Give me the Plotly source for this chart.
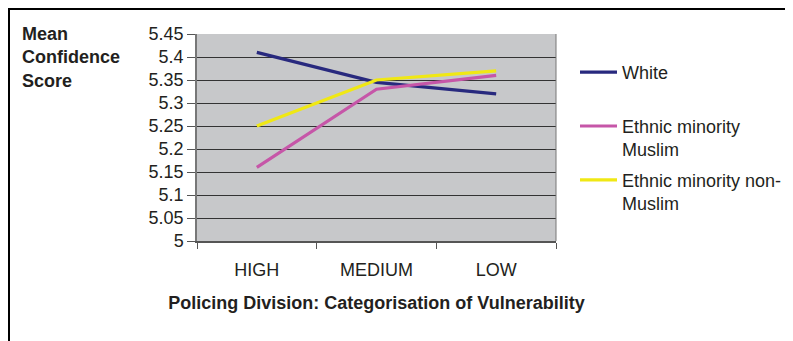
import plotly.graph_objects as go

categories = ["HIGH", "MEDIUM", "LOW"]
white = [5.41, 5.345, 5.32]
muslim = [5.16, 5.33, 5.36]
non_muslim = [5.25, 5.35, 5.37]
series_names = ["White<br>&nbsp;", "Ethnic minority<br>Muslim", "Ethnic minority non-<br>Muslim"]
y_ticks = [5, 5.05, 5.1, 5.15, 5.2, 5.25, 5.3, 5.35, 5.4, 5.45]
y_tick_labels = ["5", "5.05", "5.1", "5.15", "5.2", "5.25", "5.3", "5.35", "5.4", "5.45"]

colors = ["#28297E", "#C656A8", "#F0E814"]
font_family = "Liberation Sans, Arial, sans-serif"
text_color = "#231F20"
FS = 18

# page body has an 8px margin; work in figure coordinates
OFF = 8
W, H = 800, 341 - OFF
L, R, T, B = 197 - OFF, 556 - OFF, 34 - OFF, 241 - OFF

fig = go.Figure()
for i, (name, vals) in enumerate(zip(series_names, [white, muslim, non_muslim])):
    fig.add_trace(go.Scatter(
        x=categories, y=vals, mode="lines", name=name,
        line=dict(color=colors[i], width=3.2),
        legendgroup=f"g{i}",
    ))

def px_x(px):
    return (px - L) / (R - L)

def px_y(py):
    return (B - py) / (B - T)

fig.update_layout(
    width=W, height=H,
    margin=dict(l=L, r=W - R, t=T, b=H - B),
    paper_bgcolor="white",
    plot_bgcolor="#C7C8CA",
    font=dict(family=font_family, size=FS, color=text_color),
    showlegend=True,
    legend=dict(
        x=px_x(567), y=px_y(46), xanchor="left", yanchor="top",
        bgcolor="rgba(0,0,0,0)", font=dict(size=FS, color=text_color),
        tracegroupgap=4, valign="top", itemwidth=37,
    ),
    xaxis=dict(
        range=[-0.5, 2.5], tickson="boundaries", ticks="outside", ticklen=6,
        tickcolor="#555", showline=True, linecolor="#555", linewidth=1.5,
        showgrid=False, mirror=False, zeroline=False,
        tickfont=dict(size=FS, color=text_color), ticklabelstandoff=12,
        title=dict(text="<b>Policing Division: Categorisation of Vulnerability</b>",
                   font=dict(size=FS, color=text_color), standoff=17),
    ),
    yaxis=dict(
        range=[5, 5.45], tickvals=y_ticks, ticktext=y_tick_labels,
        ticks="outside", ticklen=8, tickcolor="#555",
        showline=True, linecolor="#777", linewidth=1.5,
        showgrid=True, gridcolor="#333", gridwidth=1, zeroline=False,
        tickfont=dict(size=FS, color=text_color),
    ),
    shapes=[
        dict(type="line", xref="paper", yref="paper",
             x0=px_x(0.5), x1=px_x(0.5), y0=px_y(0), y1=px_y(H),
             line=dict(color="black", width=3)),
        dict(type="line", xref="paper", yref="paper",
             x0=px_x(0), x1=px_x(W), y0=px_y(0.5), y1=px_y(0.5),
             line=dict(color="black", width=3)),
        dict(type="line", xref="paper", yref="paper",
             x0=1, x1=1, y0=0, y1=1, line=dict(color="#777", width=1)),
    ],
    annotations=[
        dict(text="<b>Mean<br>Confidence<br>Score</b>", xref="paper", yref="paper",
             x=px_x(12), y=px_y(14), xanchor="left", yanchor="top", align="left",
             showarrow=False, font=dict(size=FS, color=text_color)),
    ],
)

fig.write_html("out.html", config={"displayModeBar": False})
